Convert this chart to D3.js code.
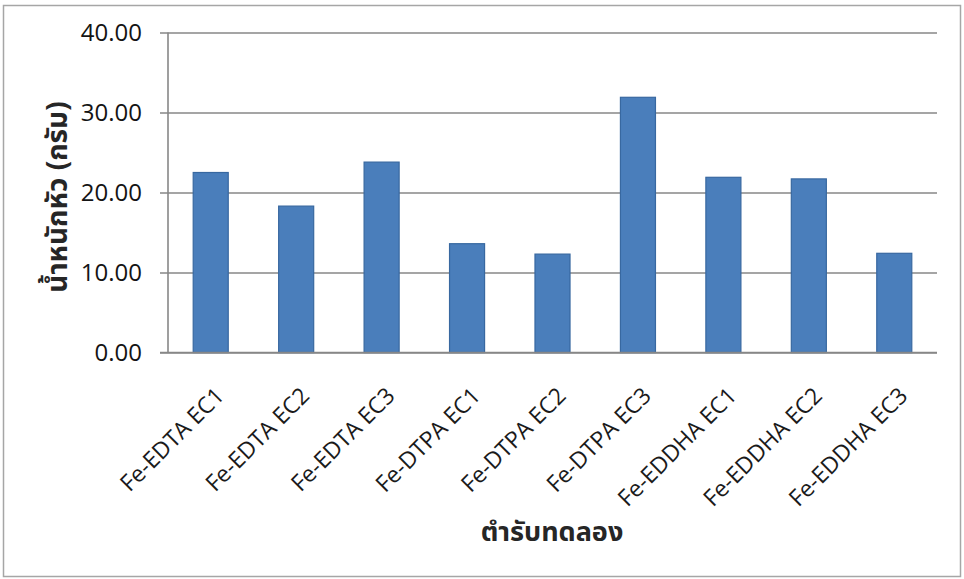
<!DOCTYPE html>
<html>
<head>
<meta charset="utf-8">
<script src="https://cdn.jsdelivr.net/npm/d3@7"></script>
<style>
  html, body { margin: 0; padding: 0; background: #ffffff; }
  svg { display: block; }
</style>
</head>
<body>
<svg id="chart" width="964" height="579"></svg>
<script>
const categories = ["Fe-EDTA EC1", "Fe-EDTA EC2", "Fe-EDTA EC3", "Fe-DTPA EC1", "Fe-DTPA EC2", "Fe-DTPA EC3", "Fe-EDDHA EC1", "Fe-EDDHA EC2", "Fe-EDDHA EC3"];
const weights = [22.5, 18.3, 23.8, 13.6, 12.3, 31.9, 21.9, 21.7, 12.4];
const yTicks = [0, 10, 20, 30, 40];
const yTitle = "น้ำหนักหัว (กรัม)";
const xTitle = "ตำรับทดลอง";

(function () {
const svg = d3.select("#chart");
const pLeft = 168, pRight = 937, pTop = 32.5, pBottom = 352.5;

const x = d3.scaleBand().domain(categories).range([pLeft, pRight]).paddingInner(0.59).paddingOuter(0.295);
const y = d3.scaleLinear().domain([0, 40]).range([pBottom, pTop]);

// outer frame
svg.append("rect").attr("x", 3.5).attr("y", 5.5).attr("width", 957).attr("height", 571)
  .attr("fill", "none").attr("stroke", "#a6a6a6").attr("stroke-width", 1.5);

// gridlines
const yAxis = d3.axisLeft(y).tickValues(yTicks).tickSize(-(pRight - pLeft)).tickFormat(d3.format(".2f")).tickPadding(26);
const gy = svg.append("g").attr("transform", `translate(${pLeft},0)`).call(yAxis);
gy.select(".domain").remove();
gy.selectAll(".tick line").attr("stroke", "#878787").attr("stroke-width", 1.6).attr("x1", -8);
gy.selectAll(".tick text")
  .attr("font-family", "'Open Sans', 'Noto Sans', sans-serif")
  .attr("font-size", 24).attr("font-weight", 500).attr("fill", "#141414");

// y axis line
svg.append("line").attr("x1", pLeft).attr("x2", pLeft).attr("y1", pTop).attr("y2", pBottom)
  .attr("stroke", "#878787").attr("stroke-width", 1.6);

// bars
svg.append("g").selectAll("rect").data(categories).join("rect")
  .attr("x", d => x(d))
  .attr("y", (d, i) => y(weights[i]))
  .attr("width", x.bandwidth())
  .attr("height", (d, i) => y(0) - y(weights[i]))
  .attr("fill", "#4a7ebb")
  .attr("stroke", "#3868a0")
  .attr("stroke-width", 1.2);

// baseline over bars
svg.append("line").attr("x1", pLeft - 8).attr("x2", pRight).attr("y1", y(0)).attr("y2", y(0))
  .attr("stroke", "#878787").attr("stroke-width", 1.6);

// x labels
const xAxis = d3.axisBottom(x).tickSize(0).tickPadding(0);
const gx = svg.append("g").attr("transform", `translate(0,${pBottom})`).call(xAxis);
gx.select(".domain").remove();
gx.selectAll(".tick text")
  .attr("font-family", "'Open Sans', 'Noto Sans', sans-serif")
  .attr("font-size", 23).attr("fill", "#1a1a1a")
  .attr("text-anchor", "end")
  .attr("y", 0).attr("dy", "0.72em")
  .attr("transform", "translate(3,33) rotate(-45)");

// axis titles
svg.append("text")
  .attr("transform", "translate(67,197) rotate(-90)")
  .attr("text-anchor", "middle")
  .attr("font-family", "'Noto Sans Thai', 'Noto Sans', 'DejaVu Sans', sans-serif")
  .attr("font-size", 28).attr("font-weight", 700).attr("fill", "#262626")
  .text(yTitle);

svg.append("text")
  .attr("x", 552).attr("y", 541)
  .attr("text-anchor", "middle")
  .attr("font-family", "'Noto Sans Thai', 'Noto Sans', 'DejaVu Sans', sans-serif")
  .attr("font-size", 27).attr("font-weight", 700).attr("fill", "#262626")
  .text(xTitle);
})();
</script>
</body>
</html>
